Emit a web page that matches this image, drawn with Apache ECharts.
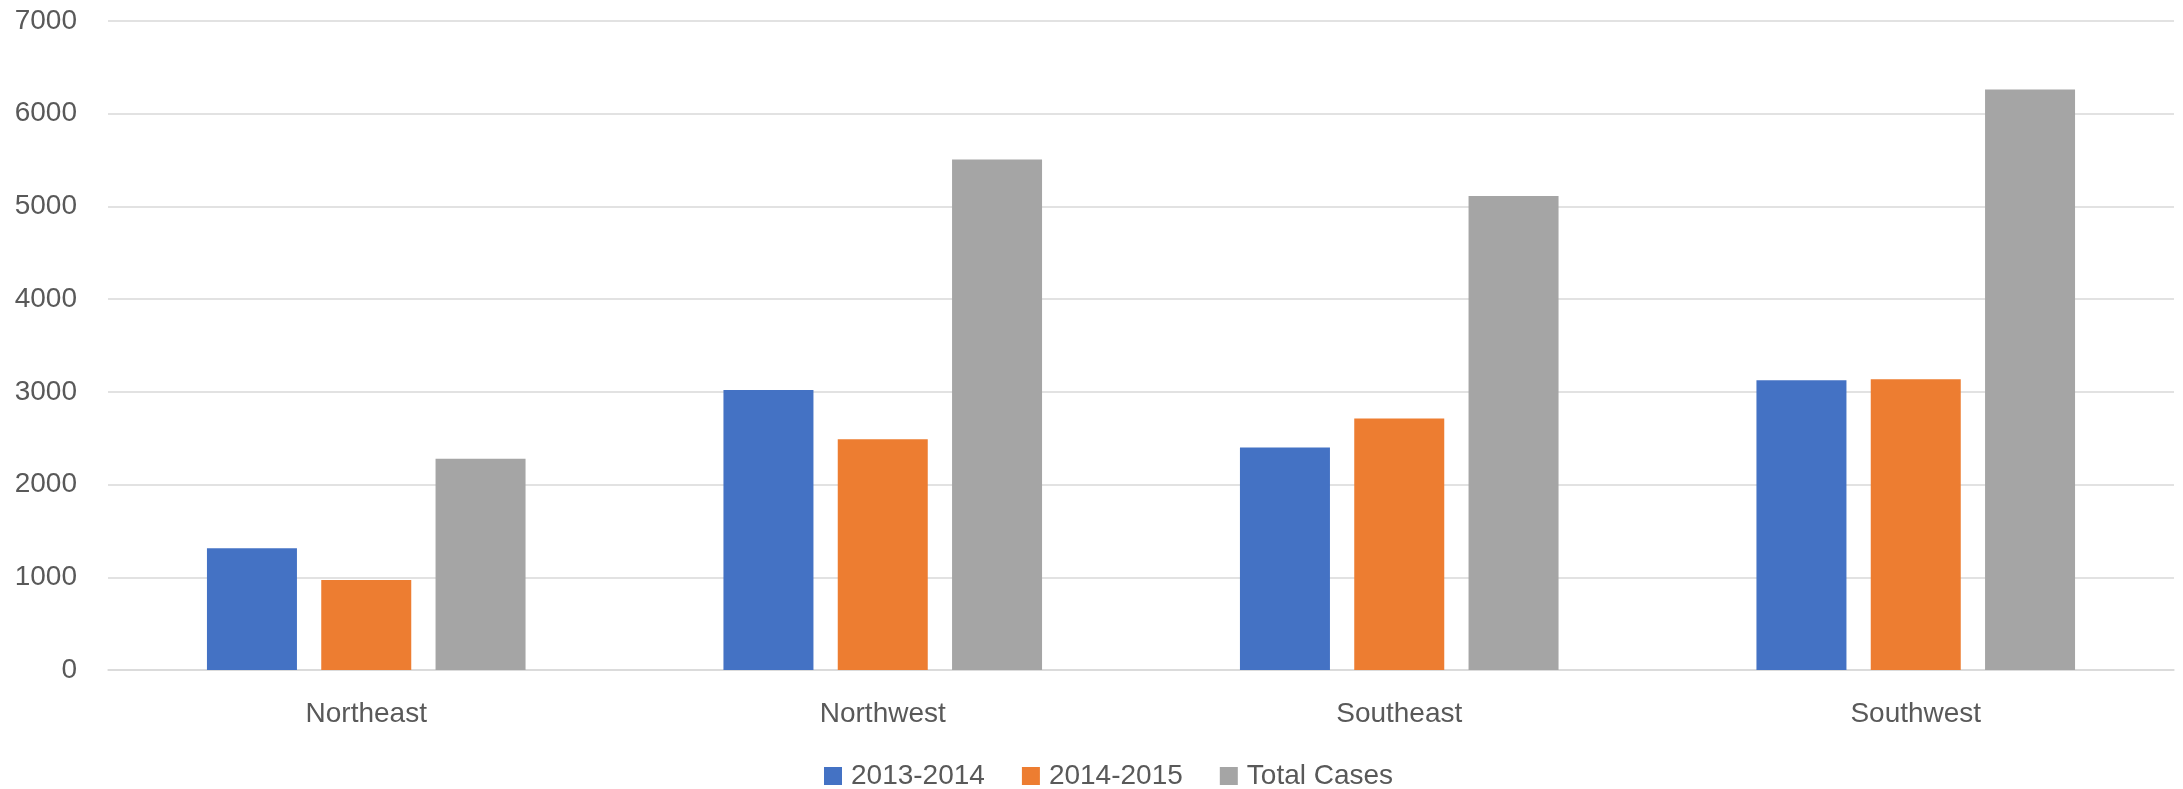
<!DOCTYPE html>
<html>
<head>
<meta charset="utf-8">
<title>Cases by region</title>
<script src="https://cdn.jsdelivr.net/npm/echarts@6/dist/echarts.min.js"></script>
<style>
    html, body { margin: 0; padding: 0; background: #fff; }
    #chart { width: 2183px; height: 789px; }
</style>
</head>
<body>
<div id="chart"></div>
<script>
// regions on the x axis
const regions = ['Northeast', 'Northwest', 'Southeast', 'Southwest']
// values
const cases1314 = [1312, 3019, 2401, 3126]
const cases1415 = [970, 2490, 2713, 3137]
const totalCases = [2278, 5506, 5113, 6260]
const seriesNames = ['2013-2014', '2014-2015', 'Total Cases']

const textColor = '#595959'
const gridColor = '#d9d9d9'
const font = 'Liberation Sans'

const chart = echarts.init(document.getElementById('chart'))

function bar (name, data, color) {
    return {
        name: name,
        type: 'bar',
        data: data,
        barWidth: 90,
        barGap: '27%',
        itemStyle: { color: color },
        emphasis: { disabled: true }
    }
}

let option = {
    animation: false,
    color: ['#4472C4', '#ED7D31', '#A5A5A5'],
    grid: {
        left: 108,
        right: 9,
        top: 21,
        bottom: 119
    },
    legend: {
        data: seriesNames,
        left: 819,
        top: 757,
        itemWidth: 18,
        itemHeight: 18,
        itemGap: 37,
        icon: 'rect',
        textStyle: {
            color: textColor,
            fontSize: 28,
            fontFamily: font,
            padding: [0, 0, 0, 4]
        }
    },
    xAxis: {
        type: 'category',
        data: regions,
        axisLine: { lineStyle: { color: gridColor, width: 1.5 } },
        axisTick: { show: false },
        axisLabel: {
            color: textColor,
            fontSize: 28,
            fontFamily: font,
            margin: 30
        }
    },
    yAxis: {
        type: 'value',
        min: 0,
        max: 7000,
        interval: 1000,
        axisLine: { show: false },
        axisTick: { show: false },
        splitLine: { lineStyle: { color: gridColor, width: 1.5 } },
        axisLabel: {
            color: textColor,
            fontSize: 28,
            fontFamily: font,
            margin: 31,
            formatter: v => String(v)
        }
    },
    series: [
        bar(seriesNames[0], cases1314, '#4472C4'),
        bar(seriesNames[1], cases1415, '#ED7D31'),
        bar(seriesNames[2], totalCases, '#A5A5A5')
    ]
}

chart.setOption(option)
</script>
</body>
</html>
